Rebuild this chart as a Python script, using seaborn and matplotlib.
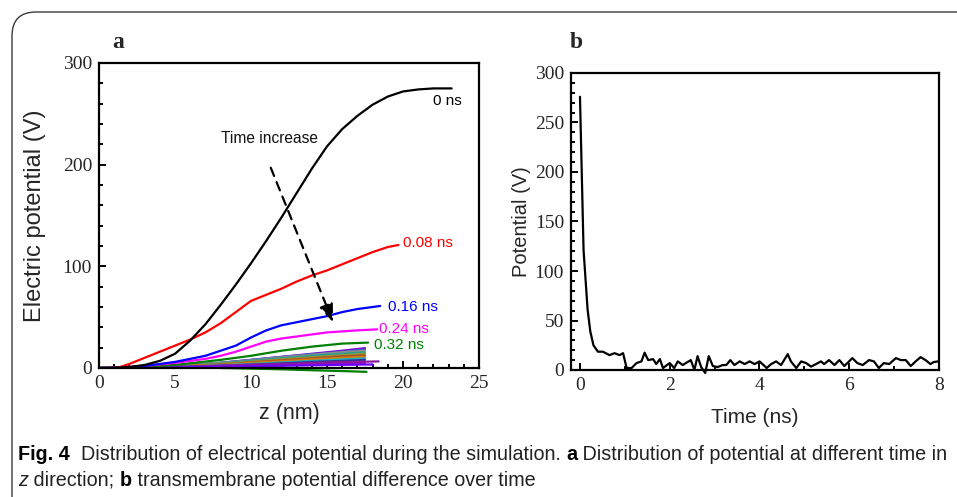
import numpy as np
import pandas as pd
import matplotlib
matplotlib.use("Agg")
import matplotlib.pyplot as plt
import seaborn as sns
from matplotlib.patches import FancyBboxPatch
from matplotlib.ticker import MultipleLocator

# ---------------- data: panel a ----------------
z_0ns = [0, 1, 2, 3, 4, 5, 6, 7, 8, 9, 10, 11, 12, 13, 14, 15, 16, 17, 18, 19, 20, 21, 22, 23.2]
v_0ns = [0, 0.3, 1, 3, 7, 14, 27, 43, 62, 82, 103, 125, 148, 172, 196, 218, 235, 248, 259, 267, 272, 274, 275, 275]

z_008 = [1.2, 2, 3, 4, 5, 6, 7, 8, 9, 10, 11, 12, 13, 14, 15, 16, 17, 18, 19, 19.7]
v_008 = [0, 4, 10, 16, 22, 28, 35, 44, 55, 66, 72, 78, 85, 91, 96, 102, 108, 114, 119, 121]

z_016 = [1.5, 3, 5, 7, 8, 9, 10, 11, 12, 13, 14, 15, 16, 17, 18, 18.5]
v_016 = [0, 2, 6, 12, 17, 22, 30, 37, 42, 45, 48, 51, 55, 58, 60, 61]

z_024 = [1, 3, 5, 7, 8, 9, 10, 11, 12, 13, 14, 15, 16, 17, 18.3]
v_024 = [0, 2, 5, 9, 12, 16, 21, 26, 29, 31, 33, 35, 36, 37, 38]

z_032 = [1, 5, 8, 10, 12, 14, 16, 17.7]
v_032 = [0, 3, 8, 12, 17, 21, 24, 25]

# later time steps (bundle near the axis)
z_bundle = [0, 2, 4, 6, 8, 10, 12, 14, 16, 17.5]
bundle_values = {
    "b1": [0, 0.5, 1.5, 3, 5, 8, 11, 14, 17, 19.5],
    "b2": [0, 0.5, 1.6, 3.2, 5.3, 8, 10.8, 13.5, 16, 18],
    "b3": [0, 0.5, 1.5, 3, 5, 7.5, 10.5, 13, 15.5, 17],
    "b4": [0, 0.4, 1.3, 2.6, 4.5, 7, 9.5, 12, 14, 15.5],
    "b5": [0, 0.4, 1.2, 2.4, 4, 6, 8.5, 10.5, 12.5, 14],
    "b6": [0, 0.3, 1, 2, 3.5, 5.5, 7.5, 9.5, 11.5, 12.5],
    "b7": [0, 0.3, 1, 2, 3, 5, 6.5, 8.5, 10, 11],
    "b8": [0, 0.3, 0.8, 1.6, 2.7, 4, 5.5, 7, 8.5, 9.5],
    "b9": [0, 0.2, 0.6, 1.3, 2.2, 3.3, 4.5, 6, 7, 8],
    "b10": [0, 0.1, 0.4, 0.8, 1.4, 2, 2.8, 3.5, 4.2, 4.8],
}
bundle_colors = ["#7b00d4", "#4060c0", "#8c8c8c", "#2a9d8f", "#9a9a30", "#a0522d",
                 "#e07b00", "#20b0c0", "#3030a0", "#c000c0"]
# two longer purple/blue traces
z_long1 = [0, 3, 6, 9, 12, 15, 18.4]
v_long1 = [0, 0.5, 1.5, 2.8, 4, 5.3, 6.5]
z_long2 = [0, 3, 6, 9, 12, 15, 18.0]
v_long2 = [0, 0.3, 0.8, 1.5, 2.2, 2.9, 3.5]
z_neg = [8, 10, 12, 14, 16, 17.6]
v_neg = [0, -0.6, -1.3, -2.2, -3.0, -3.8]

labels_a = ["0 ns", "0.08 ns", "0.16 ns", "0.24 ns", "0.32 ns"]
colors_a = ["black", "#ff0000", "#0000ff", "#ff00ff", "#008000"]

# ---------------- data: panel b ----------------
time_ns = [0.0, 0.08, 0.17, 0.23, 0.30, 0.40, 0.51, 0.66, 0.77, 0.88, 0.96, 1.04, 1.15, 1.26, 1.37,
           1.44, 1.52, 1.63, 1.70, 1.78, 1.85, 2.00, 2.10, 2.18, 2.29, 2.36, 2.47, 2.55, 2.62,
           2.70, 2.79, 2.87, 2.96, 3.07, 3.18, 3.26, 3.35, 3.44, 3.56, 3.67, 3.78, 3.89, 4.00,
           4.09, 4.16, 4.26, 4.37, 4.48, 4.63, 4.70, 4.82, 4.93, 5.04, 5.15, 5.26, 5.37, 5.44,
           5.55, 5.67, 5.78, 5.89, 6.07, 6.18, 6.30, 6.44, 6.55, 6.66, 6.77, 6.89, 7.04, 7.15,
           7.26, 7.37, 7.48, 7.59, 7.70, 7.81, 7.88, 7.98]
potential_v = [276, 121, 61, 39, 25, 18.5, 18.5, 15, 17, 15, 17, 2, 2, 7, 8.7,
               17.5, 10, 11, 6, 11, 2, 7, 2, 8.7, 5, 7, 10, 0, 14,
               3, -3, 14, 4, 3, 5, 5, 10, 5, 8.7, 6, 8.7, 6, 8.7,
               5, 2, 6, 8.7, 5, 16, 8.7, 2, 8.7, 7, 3.4, 6, 8.7, 6,
               10, 5, 10, 4, 12, 7, 5, 10, 8.7, 2, 7, 6, 12, 10,
               10, 4, 8.7, 13, 10, 6, 8, 8.7]

# ---------------- figure ----------------
sns.set_theme(style="ticks")
plt.rcParams["font.family"] = ["Liberation Sans", "DejaVu Sans"]

W, H = 957, 497
fig = plt.figure(figsize=(W / 100, H / 100), dpi=100)

def px_rect(l, t, r, b):
    return [l / W, 1 - b / H, (r - l) / W, (b - t) / H]

ax_a = fig.add_axes(px_rect(99, 63, 479, 368))
ax_b = fig.add_axes(px_rect(571, 73, 939, 370))

# outer rounded frame
frame = FancyBboxPatch((12 / W, -0.2), 1.2, 1 - 12 / H + 0.2,
                       boxstyle="round,pad=0,rounding_size=0.025",
                       transform=fig.transFigure, facecolor="none",
                       edgecolor="#3a3a3a", linewidth=1.0, mutation_aspect=W / H)
fig.patches.append(frame)

LW = 1.6
# bundle
rows = []
for name, vals in bundle_values.items():
    for zz, vv in zip(z_bundle, vals):
        rows.append({"z": zz, "V": vv, "series": name})
df_bundle = pd.DataFrame(rows)
pal = dict(zip(bundle_values.keys(), bundle_colors))
sns.lineplot(data=df_bundle, x="z", y="V", hue="series", palette=pal, estimator=None,
             sort=False, lw=LW, legend=False, ax=ax_a)
sns.lineplot(x=z_long1, y=v_long1, color="#8a1a9a", lw=LW, ax=ax_a, estimator=None, sort=False)
sns.lineplot(x=z_long2, y=v_long2, color="#6a00ff", lw=LW, ax=ax_a, estimator=None, sort=False)
sns.lineplot(x=z_neg, y=v_neg, color="#008000", lw=LW, ax=ax_a, estimator=None, sort=False)
ax_a.lines[-1].set_clip_on(False)

main = [(z_032, v_032), (z_024, v_024), (z_016, v_016), (z_008, v_008), (z_0ns, v_0ns)]
for (zz, vv), c in zip(main, colors_a[::-1]):
    sns.lineplot(x=zz, y=vv, color=c, lw=LW, ax=ax_a, estimator=None, sort=False)

ax_a.set_xlim(0, 25)
ax_a.set_ylim(0, 300)
ax_a.xaxis.set_major_locator(MultipleLocator(5))
ax_a.xaxis.set_minor_locator(MultipleLocator(1))
ax_a.yaxis.set_major_locator(MultipleLocator(100))
ax_a.yaxis.set_minor_locator(MultipleLocator(20))

# curve labels
label_pos = [(22.0, 263), (20.0, 123), (19.0, 60), (18.4, 38), (18.1, 23)]
for (lx, ly), t, c in zip(label_pos, labels_a, colors_a):
    ax_a.text(lx, ly, t, color=c, fontsize=11, ha="left", va="center")

ax_a.text(11.2, 226, "Time increase", fontsize=11.2, ha="center", va="center", color="#111111")
ax_a.annotate("", xy=(15.4, 45), xytext=(11.3, 197),
              arrowprops=dict(arrowstyle="-|>,head_length=0.9,head_width=0.35",
                              linestyle=(0, (4, 3)), lw=1.6, color="black",
                              shrinkA=0, shrinkB=0))

ax_a.set_xlabel("z (nm)", fontsize=15.5, labelpad=8)
ax_a.set_ylabel("Electric potential (V)", fontsize=17, labelpad=12)

# panel b
sns.lineplot(x=time_ns, y=potential_v, color="black", lw=LW, ax=ax_b, estimator=None, sort=False)
ax_b.lines[-1].set_clip_on(False)
ax_b.set_xlim(-0.2, 8)
ax_b.set_ylim(0, 300)
ax_b.xaxis.set_major_locator(MultipleLocator(2))
ax_b.xaxis.set_minor_locator(MultipleLocator(1))
ax_b.yaxis.set_major_locator(MultipleLocator(50))
ax_b.yaxis.set_minor_locator(MultipleLocator(10))
ax_b.set_xlabel("Time (ns)", fontsize=15, labelpad=10)
ax_b.set_ylabel("Potential (V)", fontsize=14.5, labelpad=3)

for ax, fs in ((ax_a, 14), (ax_b, 14)):
    for sp in ax.spines.values():
        sp.set_visible(True)
        sp.set_linewidth(1.6)
        sp.set_color("black")
    ax.tick_params(which="both", direction="in", top=False, right=False, width=1.4, color="black")
    ax.tick_params(which="major", length=5, pad=5)
    ax.tick_params(which="minor", length=3)
    for lab in ax.get_xticklabels() + ax.get_yticklabels():
        lab.set_fontfamily(["Liberation Serif", "DejaVu Serif"])
        lab.set_fontsize(fs)

fig.text(112 / W, 1 - 42 / H, "a", fontsize=17, fontweight="bold",
         family=["Liberation Serif", "DejaVu Serif"], ha="left", va="center")
fig.text(570 / W, 1 - 42 / H, "b", fontsize=17, fontweight="bold",
         family=["Liberation Serif", "DejaVu Serif"], ha="left", va="center")

# caption with mixed styles
cap_ax = fig.add_axes([0, 0, 1, 1], facecolor="none")
cap_ax.set_axis_off()
CAPF = ["Liberation Sans", "DejaVu Sans"]
CS = 14.2
def chain(pieces, x0, y0):
    prev = cap_ax.text(x0, y0, pieces[0][0], transform=fig.transFigure, fontsize=CS,
                       family=CAPF, fontweight=pieces[0][1], fontstyle=pieces[0][2],
                       color=pieces[0][3], ha="left", va="baseline")
    for txt, wt, st, col in pieces[1:]:
        prev = cap_ax.annotate(txt, xy=(1, 0), xycoords=prev, xytext=(0, 0),
                               textcoords="offset points", fontsize=CS, family=CAPF,
                               fontweight=wt, fontstyle=st, color=col,
                               ha="left", va="bottom", annotation_clip=False)
    return prev

dark = "#222222"
chain([("Fig. 4", "bold", "normal", "black"),
       ("  Distribution of electrical potential during the simulation. ", "normal", "normal", dark),
       ("a", "bold", "normal", "black"),
       (" Distribution of potential at different time in", "normal", "normal", dark)],
      18 / W, 1 - 460 / H)
chain([("z", "normal", "italic", dark),
       (" direction; ", "normal", "normal", dark),
       ("b", "bold", "normal", "black"),
       (" transmembrane potential difference over time", "normal", "normal", dark)],
      18 / W, 1 - 486 / H)

fig.savefig("out.png", dpi=100)
